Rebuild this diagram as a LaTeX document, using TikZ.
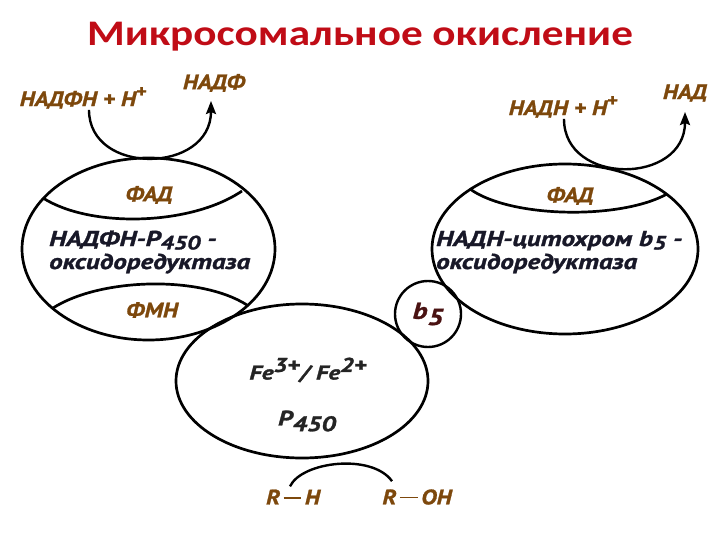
\documentclass[tikz,border=0pt]{standalone}
\usepackage{fontspec}
\usepackage{graphicx}
\usetikzlibrary{shapes.geometric,arrows.meta}
\setmainfont{PT Sans}
\newfontfamily\lblfont{PT Sans}[FakeStretch=1.14, BoldItalicFeatures={FakeBold=1.2}]
\newfontfamily\mnfont{PT Sans}[FakeStretch=1.26, BoldItalicFeatures={FakeBold=1.4}]
\newfontfamily\titlefont{Carlito}[FakeStretch=1.2]
\definecolor{titlecol}{RGB}{192,12,22}
\definecolor{lblcol}{RGB}{125,72,12}
\definecolor{maincol}{RGB}{24,24,40}
\definecolor{fecol}{RGB}{36,36,36}
\definecolor{bcol}{RGB}{74,18,18}
\newcommand{\subtx}[1]{\raisebox{-0.27em}{#1}}
\newcommand{\smsub}[1]{\raisebox{-0.16em}{\scalebox{0.9}{#1}}}
\newcommand{\suptx}[1]{\raisebox{0.42em}{\scalebox{0.85}{#1}}}
\newcommand{\bigsup}[1]{\raisebox{0.38em}{#1}}
\newcommand{\rdash}{\,\rule[0.28em]{0.85em}{0.09em}\,}
\tikzset{
  lbl/.style={font=\lblfont\bfseries\itshape\fontsize{21}{24}\selectfont, text=lblcol, inner sep=1pt},
  maintx/.style={font=\mnfont\bfseries\itshape\fontsize{21.5}{24}\selectfont, text=maincol, inner sep=0pt, anchor=base west},
  ring/.style={draw, line width=2.7pt, ellipse, inner sep=0pt},
  capline/.style={line width=2.7pt},
  flow/.style={line width=2.4pt, -{Stealth[length=13pt,width=10pt,inset=2pt]}},
  subline/.style={line width=2.4pt},
}
\begin{document}
\begin{tikzpicture}[x=1pt,y=-1pt]
\useasboundingbox (0,0) rectangle (720,540);
% title
\node[font=\titlefont\bfseries\fontsize{36}{40}\selectfont, text=titlecol] (title) at (360,37) {Микросомальное окисление};
% enzymes
\node[ring, minimum width=253pt, minimum height=182pt] (redL) at (148.5,249) {};
\node[ring, minimum width=266pt, minimum height=170pt] (redR) at (565,249) {};
\node[ring, minimum width=252pt, minimum height=154pt] (p450) at (302,381) {};
\node[draw, circle, line width=2.4pt, minimum size=66pt, inner sep=0pt, font=\mnfont\bfseries\itshape\fontsize{23}{24}\selectfont, text=bcol] (b5) at (428,314) {b\subtx{5}};
% caps inside the reductases
\draw[capline] (43,198) .. controls (90,228) and (190,226) .. (242,191);
\draw[capline] (53,308) .. controls (100,278) and (200,275) .. (247,305);
\draw[capline] (470,189) .. controls (510,218) and (620,220) .. (667,194);
% labels
\node[lbl] (fadL) at (149,195) {ФАД};
\node[lbl] (fmn) at (152,310) {ФМН};
\node[lbl] (fadR) at (570,196) {ФАД};
\node[maintx] (l1) at (49,246) {НАДФН-Р\smsub{450} -};
\node[maintx] (l2) at (49,269) {оксидоредуктаза};
\node[maintx] (r1) at (436,246) {НАДН-цитохром b\smsub{5} -};
\node[maintx] (r2) at (436,269) {оксидоредуктаза};
\node[font=\mnfont\bfseries\itshape\fontsize{20}{22}\selectfont, text=fecol] (fe) at (308,370) {Fe\bigsup{3+}/ Fe\bigsup{2+}};
\node[font=\mnfont\bfseries\itshape\fontsize{21}{22}\selectfont, text=fecol] (pn) at (307,421) {P\subtx{450}};
% cofactors
\node[lbl] (nadph) at (83,98) {НАДФН + Н\suptx{+}};
\node[lbl] (nadp) at (214,83) {НАДФ};
\node[lbl] (nadh) at (563,107) {НАДН + Н\suptx{+}};
\node[lbl] (nad) at (685,93) {НАД};
\node[lbl] (rh) at (293,497) {R\rdash H};
\node[lbl] (roh) at (417,497) {R\rdash OH};
\coordinate (tipL) at (211,101);
\coordinate (tipR) at (685,112);
% flows
\draw[flow] ([xshift=6pt]nadph.south) .. controls +(0,66) and +(0,73) .. (tipL);
\draw[flow] ([xshift=1pt]nadh.south) .. controls +(0,67) and +(0,73) .. (tipR);
\draw[subline] ([xshift=-3pt,yshift=2pt]rh.north) .. controls +(12,-25) and +(-20,-28) .. ([xshift=-25pt,yshift=7pt]roh.north);
\end{tikzpicture}
\end{document}
